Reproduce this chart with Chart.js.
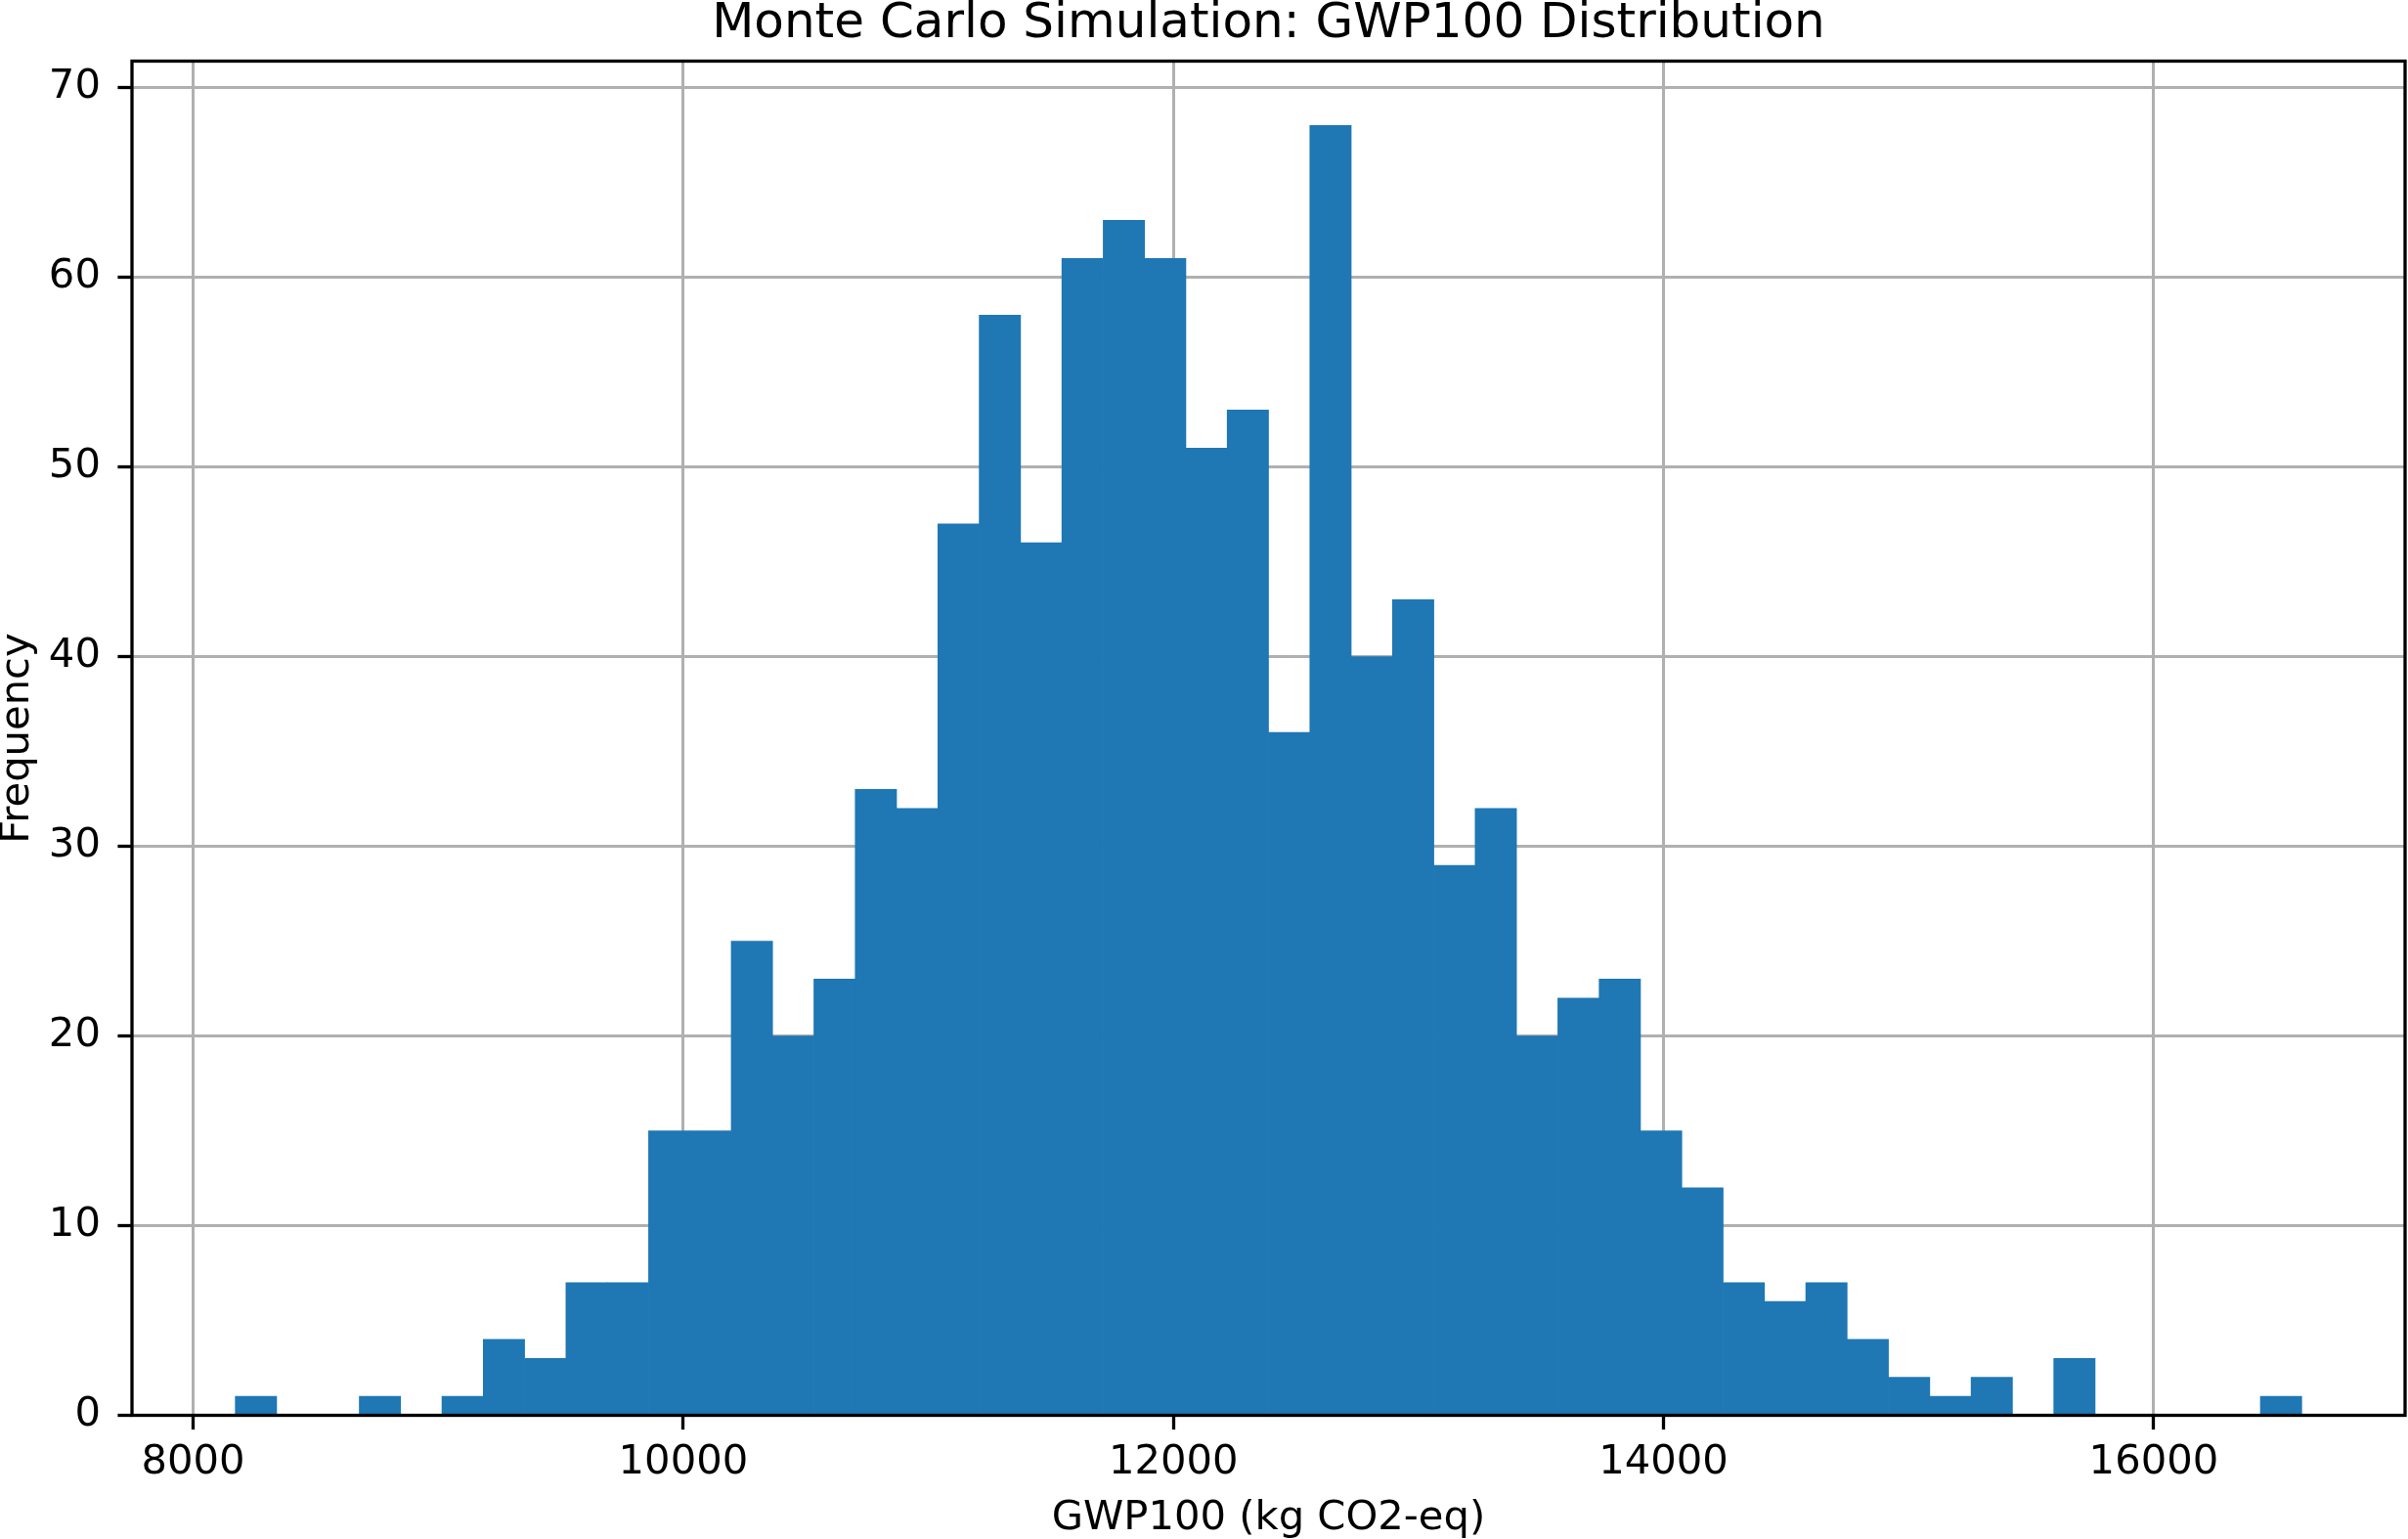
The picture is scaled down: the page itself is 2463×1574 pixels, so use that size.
<!DOCTYPE html>
<html>
<head>
<meta charset="utf-8">
<title>Monte Carlo Simulation: GWP100 Distribution</title>
<script src="https://cdn.jsdelivr.net/npm/chart.js@4.4.1/dist/chart.umd.min.js"></script>
<style>
  html, body { margin: 0; padding: 0; background: #ffffff; }
  canvas { display: block; }
</style>
</head>
<body>
<canvas id="myChart" width="2463" height="1574" style="width:2463px;height:1574px"></canvas>
<script>
// histogram, 50 bins between the sample min and max
const binMin = 8172;
const binMax = 16604;
const counts = [1, 0, 0, 1, 0, 1, 4, 3, 7, 7,
                15, 15, 25, 20, 23, 33, 32, 47, 58, 46,
                61, 63, 61, 51, 53, 36, 68, 40, 43, 29,
                32, 20, 22, 23, 15, 12, 7, 6, 7, 4,
                2, 1, 2, 0, 3, 0, 0, 0, 0, 1];
const xTicks = [8000, 10000, 12000, 14000, 16000];
const yTicks = [0, 10, 20, 30, 40, 50, 60, 70];

const binWidth = (binMax - binMin) / counts.length;
const points = counts.map((c, i) => ({ x: binMin + (i + 0.5) * binWidth, y: c }));

// matplotlib style 5% margins
const xPad = (binMax - binMin) * 0.05;
const yMax = Math.max(...counts) * 1.05;

const FONT = 'DejaVu Sans';

// the box around the axes
const spines = {
    id: 'spines',
    afterDraw(chart) {
        const { ctx, chartArea: a } = chart;
        ctx.save();
        ctx.strokeStyle = '#000000';
        ctx.lineWidth = 3.3;
        ctx.strokeRect(a.left, a.top, a.right - a.left, a.bottom - a.top);
        ctx.restore();
    }
};

const ctx = document.getElementById('myChart').getContext('2d');

const myChart = new Chart(ctx, {
    type: 'bar',
    data: {
        datasets: [{
            label: 'GWP100',
            data: points,
            backgroundColor: '#1f77b4',
            borderWidth: 0,
            barPercentage: 1.0,
            categoryPercentage: 1.0
        }]
    },
    options: {
        responsive: false,
        devicePixelRatio: 1,
        animation: false,
        layout: { padding: { left: 0, right: 3, top: 0, bottom: 0 } },
        plugins: {
            legend: { display: false },
            tooltip: { enabled: false },
            title: {
                display: true,
                fullSize: false,   // centre over the plot area, like matplotlib
                text: 'Monte Carlo Simulation: GWP100 Distribution',
                color: '#000000',
                font: { family: FONT, size: 50, weight: 'normal', lineHeight: 1 },
                padding: { top: 0, bottom: 12.5 }
            }
        },
        scales: {
            x: {
                type: 'linear',
                min: binMin - xPad,
                max: binMax + xPad,
                offset: false,
                z: 1,
                afterFit(scale) { scale.height = 126.5; },
                afterBuildTicks(scale) { scale.ticks = xTicks.map(v => ({ value: v })); },
                grid: { offset: false, color: '#b0b0b0', lineWidth: 3, tickLength: 14.6,
                        tickColor: '#000000', tickWidth: 3.3, drawTicks: true },
                border: { display: false },
                ticks: {
                    color: '#000000',
                    font: { family: FONT, size: 41.7, lineHeight: 1.2 },
                    padding: 8.7,
                    maxRotation: 0,
                    autoSkip: false,
                    callback: v => String(v)
                },
                title: {
                    display: true,
                    text: 'GWP100 (kg CO2-eq)',
                    color: '#000000',
                    font: { family: FONT, size: 41.7, lineHeight: 1 },
                    padding: 0
                }
            },
            y: {
                min: 0,
                max: yMax,
                z: 1,
                afterFit(scale) { scale.width = 135; },
                afterBuildTicks(scale) { scale.ticks = yTicks.map(v => ({ value: v })); },
                grid: { color: '#b0b0b0', lineWidth: 3, tickLength: 14.6,
                        tickColor: '#000000', tickWidth: 3.3, drawTicks: true },
                border: { display: false },
                ticks: {
                    color: '#000000',
                    font: { family: FONT, size: 41.7 },
                    padding: 17.5,
                    autoSkip: false,
                    callback: v => String(v)
                },
                title: {
                    display: true,
                    text: 'Frequency',
                    color: '#000000',
                    font: { family: FONT, size: 41.7, lineHeight: 0.86 },
                    padding: 0
                }
            }
        }
    },
    plugins: [spines]
});
</script>
</body>
</html>
